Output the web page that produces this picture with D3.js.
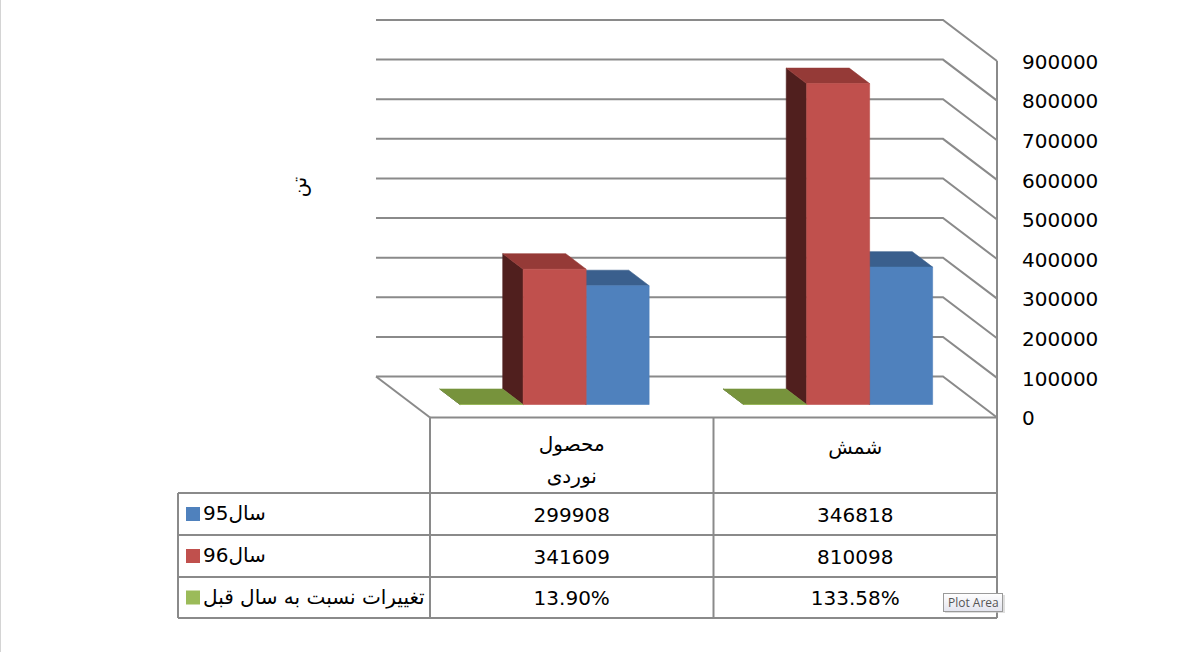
<!DOCTYPE html>
<html><head><meta charset="utf-8">
<script src="https://cdn.jsdelivr.net/npm/d3@7"></script>
<style>body{margin:0;background:#fff;overflow:hidden}</style>
</head><body>
<script>
// ---------- data ----------
const categories = ["محصول نوردی", "شمش"];
const categoryLines = [["محصول", "نوردی"], ["شمش"]];
const seriesKeys = ["y95", "y96", "change"];
const seriesNames = ["سال95", "سال96", "تغییرات نسبت به سال قبل"];
const y95 = [299908, 346818];
const y96 = [341609, 810098];
const change = [0.1390, 1.3358];
const changeLabels = ["13.90%", "133.58%"];
const yTicks = [0, 100000, 200000, 300000, 400000, 500000, 600000, 700000, 800000, 900000];
const axisTitle = "تن";

// ---------- styles ----------
const colors = {
  y95: {front: "#4F81BD", top: "#3A5F8D", side: "#27405F", key: "#4F81BD"},
  y96: {front: "#C0504D", top: "#953A37", side: "#501F1E", key: "#C0504D"},
  change: {front: "#9BBB59", top: "#77933C", side: "#4F6228", key: "#9BBB59"}
};
const FONT = "'DejaVu Sans', sans-serif";
const GRID = "#8A8A8A";

const W = 1183, H = 652;
const svg = d3.select("body").append("svg").attr("width", W).attr("height", H);

// 3D projection: depth d in [0,1] shifts up-left
const DX = -54, DY = -41;
const P = (px, py, d) => [px + DX * d, py + DY * d];
const poly = pts => "M" + pts.map(p => p.join(",")).join("L") + "Z";
const line = pts => "M" + pts.map(p => p.join(",")).join("L");

const x = d3.scaleBand().domain(categories).range([430, 997]);
const drawOrder = ["change", "y96", "y95"]; // left to right within a group
const xs = d3.scaleBand().domain(drawOrder).range([0, x.bandwidth()]).paddingInner(0).paddingOuter(0.75);
const y = d3.scaleLinear().domain([0, 900000]).range([417.5, 61]);

// chart outer edge
svg.append("line").attr("x1", 0.5).attr("x2", 0.5).attr("y1", 0).attr("y2", H)
  .attr("stroke", "#d4d4d4").attr("stroke-width", 1);

// ---------- walls ----------
const [xl, xr] = x.range();
const g = svg.append("g").attr("fill", "none").attr("stroke", GRID).attr("stroke-width", 2);
yTicks.forEach(t => {
  g.append("path").attr("d", line([P(xl, y(t), 1), P(xr, y(t), 1), P(xr, y(t), 0)]));
});
// floor left edge
g.append("path").attr("d", line([P(xl, y(0), 1), P(xl, y(0), 0)]));
// right wall front edge + table right border
g.append("path").attr("d", line([[xr, y(900000)], [xr, 618]]));

// ---------- bars ----------
const df = 0.317, db = 0.695;
const valuesOf = {y95, y96, change};
const bars = svg.append("g");
categories.forEach((c, ci) => {
  ["y95", "y96", "change"].forEach(k => {
    const v = valuesOf[k][ci];
    const x0 = x(c) + xs(k), x1 = x0 + xs.bandwidth();
    const yt = y(v), yb = y(0);
    const col = colors[k];
    const gb = bars.append("g").attr("stroke-width", 0.6).attr("stroke-linejoin", "round");
    gb.append("path").attr("d", poly([P(x0, yt, df), P(x0, yt, db), P(x0, yb, db), P(x0, yb, df)]))
      .attr("fill", col.side).attr("stroke", col.side);
    gb.append("path").attr("d", poly([P(x0, yt, df), P(x1, yt, df), P(x1, yt, db), P(x0, yt, db)]))
      .attr("fill", col.top).attr("stroke", col.top);
    gb.append("path").attr("d", poly([P(x0, yt, df), P(x1, yt, df), P(x1, yb, df), P(x0, yb, df)]))
      .attr("fill", col.front).attr("stroke", yt === yb ? "none" : col.front);
  });
});

// ---------- value axis (right) ----------
const axis = svg.append("g").attr("transform", `translate(${xr},0)`)
  .call(d3.axisRight(y).tickValues(yTicks).tickSize(0).tickPadding(25).tickFormat(d3.format("d")));
axis.select(".domain").remove();
axis.selectAll("text").attr("font-family", FONT).attr("font-size", 20).attr("fill", "#000").attr("dy", "0.36em");

// axis title
svg.append("text").attr("transform", "translate(306,187) rotate(-90)")
  .attr("text-anchor", "middle").attr("font-family", FONT).attr("font-size", 20).attr("fill", "#000")
  .text(axisTitle);

// ---------- data table ----------
const rowTops = [493, 535, 577, 618];
const tableLeft = 178, headerTop = y(0);
const tg = svg.append("g").attr("stroke", GRID).attr("stroke-width", 2).attr("fill", "none");
tg.append("line").attr("x1", xl).attr("x2", xr).attr("y1", headerTop).attr("y2", headerTop);
rowTops.forEach(r => tg.append("line").attr("x1", tableLeft).attr("x2", xr).attr("y1", r).attr("y2", r));
tg.append("line").attr("x1", tableLeft).attr("x2", tableLeft).attr("y1", rowTops[0]).attr("y2", rowTops[3]);
categories.forEach(c => tg.append("line").attr("x1", x(c)).attr("x2", x(c)).attr("y1", headerTop).attr("y2", rowTops[3]));

const txt = svg.append("g").attr("font-family", FONT).attr("font-size", 20).attr("fill", "#000");
categories.forEach((c, ci) => {
  const cx = x(c) + x.bandwidth() / 2;
  const lines = categoryLines[ci];
  const base = lines.length === 2 ? [451, 483] : [454];
  lines.forEach((l, li) => txt.append("text").attr("x", cx).attr("y", base[li]).attr("text-anchor", "middle").text(l));
});
const rowValues = [y95.map(d => String(d)), y96.map(d => String(d)), changeLabels];
seriesKeys.forEach((k, ri) => {
  const cy = (rowTops[ri] + rowTops[ri + 1]) / 2;
  svg.append("rect").attr("x", 186).attr("y", cy - 7).attr("width", 14).attr("height", 14).attr("fill", colors[k].key);
  txt.append("text").attr("x", 203).attr("y", cy + 6).attr("text-anchor", "start").text(seriesNames[ri]);
  categories.forEach((c, ci) => {
    txt.append("text").attr("x", x(c) + x.bandwidth() / 2).attr("y", cy + 7.5).attr("text-anchor", "middle").text(rowValues[ri][ci]);
  });
});

// ---------- "Plot Area" tooltip ----------
const defs = svg.append("defs");
const lg = defs.append("linearGradient").attr("id", "tip").attr("x1", 0).attr("x2", 0).attr("y1", 0).attr("y2", 1);
lg.append("stop").attr("offset", "0%").attr("stop-color", "#ffffff");
lg.append("stop").attr("offset", "100%").attr("stop-color", "#e3e4ee");
svg.append("rect").attr("x", 945).attr("y", 595).attr("width", 60).attr("height", 18).attr("fill", "#c8c8c8").attr("opacity", 0.6);
svg.append("rect").attr("x", 943.5).attr("y", 593.5).attr("width", 59).attr("height", 18)
  .attr("fill", "url(#tip)").attr("stroke", "#9a9a9a").attr("stroke-width", 1);
svg.append("text").attr("x", 948).attr("y", 607).attr("font-family", "'Open Sans', sans-serif").attr("font-size", 12)
  .attr("fill", "#555").text("Plot Area");
</script>
</body></html>
